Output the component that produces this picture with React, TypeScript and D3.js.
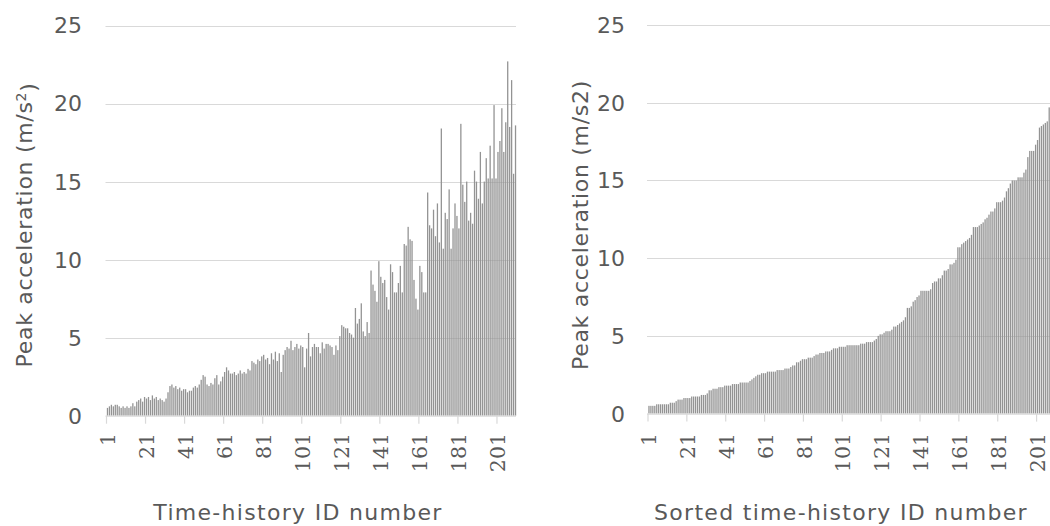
import { useEffect, useRef } from 'react';
import * as d3 from 'd3';

// peak acceleration per time-history, in ID order (m/s2)
const peakAcc = [
  0.5, 0.6, 0.7, 0.6, 0.7, 0.7, 0.6, 0.5, 0.6, 0.5, 0.6, 0.5, 0.6, 0.8, 0.6, 0.9,
  1.0, 1.1, 0.9, 1.2, 1.1, 1.2, 1.0, 1.3, 1.1, 1.2, 1.0, 1.1, 1.0, 0.9, 1.1,
  1.5, 1.9, 2.0, 1.8, 1.9,
  1.7, 1.8, 1.6, 1.7, 1.7, 1.5, 1.6, 1.6, 1.8, 1.9, 1.8, 2.0,
  2.3, 2.6, 2.5, 2.0, 1.9, 2.1, 2.0, 2.4, 2.6, 2.0, 2.2, 2.5,
  2.8, 3.1, 2.9, 2.7, 2.7, 2.8, 2.6, 2.7, 2.9, 2.7, 2.8, 2.7, 3.0, 2.9,
  3.5, 3.4, 3.3, 3.6, 3.5, 3.8, 3.9, 3.6, 3.7, 3.3, 4.0, 3.6, 4.1, 3.5, 4.0, 2.8, 3.9,
  4.2, 4.4, 4.3, 4.8, 4.2, 4.4, 4.6, 4.3, 4.5, 4.4, 3.1, 4.3, 5.3, 3.8, 4.4, 4.6, 4.4,
  4.4, 4.0, 4.7, 4.3, 4.6, 4.6, 4.5, 4.4, 3.9, 4.5, 4.2,
  5.1, 5.8, 5.7, 5.6, 5.6, 5.3, 5.2, 5.0,
  6.9, 5.9, 6.2, 7.2, 5.4, 5.1, 6.0, 5.3,
  9.3, 8.4, 8.0, 7.3, 9.9, 8.9, 8.5, 8.7, 7.6, 6.8, 9.7, 9.2, 7.9, 7.9, 8.5,
  9.6, 7.9, 11.0, 10.9, 12.1, 11.3, 11.2, 8.7, 7.5, 6.8, 9.6, 9.2, 7.9, 7.9,
  14.3, 12.2, 12.0, 13.2, 11.5, 13.6, 11.1, 18.4,
  10.7, 13.0, 12.6, 14.5, 10.7, 12.0, 13.6, 12.8, 12.0, 18.7,
  14.8, 13.7, 15.0, 12.5, 13.0, 12.3, 15.7, 15.0, 13.9, 16.9, 13.6, 15.0, 16.5, 15.2, 17.3, 15.2,
  19.9, 15.2, 16.9, 17.6, 19.7, 16.9, 18.8, 22.7, 18.5, 21.5, 15.5, 18.6,
];
const sortedAcc = [...peakAcc].sort(d3.ascending);
const ids = d3.range(1, peakAcc.length + 1);
const tickIds = [1, 21, 41, 61, 81, 101, 121, 141, 161, 181, 201];
const yTicks = [0, 5, 10, 15, 20, 25];

const panels = [
  {
    values: peakAcc,
    left: 106.5, right: 516.5, bottom: 415.7, top: 25.5,
    gridRight: 516,
    yLabelX: 82, yTitleX: 32, xTitleX: 298,
    xTitle: 'Time-history ID number',
    yTitle: 'Peak acceleration (m/s', sup: true,
  },
  {
    values: sortedAcc,
    left: 648, right: 1056, bottom: 413.6, top: 25,
    gridRight: 1050,
    yLabelX: 625, yTitleX: 588, xTitleX: 841,
    xTitle: 'Sorted time-history ID number',
    yTitle: 'Peak acceleration (m/s2)', sup: false,
  },
];

const textColor = '#595959';
const gridColor = '#d9d9d9';
const barColor = '#939393';

export default function App() {
  const svgRef = useRef(null);

  useEffect(() => {
    const svg = d3.select(svgRef.current);
    svg.selectAll('*').remove();

    panels.forEach(p => {
      const g = svg.append('g');
      const x = d3.scaleBand().domain(ids).range([p.left, p.right]);
      const y = d3.scaleLinear().domain([0, 25]).range([p.bottom, p.top]);
      const step = x.step();

      // gridlines
      g.selectAll('.grid')
        .data(yTicks.filter(d => d > 0))
        .enter()
        .append('line')
        .attr('x1', p.left - 1)
        .attr('x2', p.gridRight)
        .attr('y1', d => Math.round(y(d)) + 0.5)
        .attr('y2', d => Math.round(y(d)) + 0.5)
        .attr('stroke', gridColor)
        .attr('stroke-width', 1.2);

      // bars
      g.selectAll('.bar')
        .data(p.values)
        .enter()
        .append('rect')
        .attr('x', (d, i) => x(ids[i]) + step * 0.17)
        .attr('width', step * 0.66)
        .attr('y', d => y(d))
        .attr('height', d => y(0) - y(d))
        .attr('fill', barColor);

      // x axis line and ticks
      g.append('line')
        .attr('x1', p.left - 1)
        .attr('x2', p.gridRight)
        .attr('y1', y(0) + 0.5)
        .attr('y2', y(0) + 0.5)
        .attr('stroke', gridColor)
        .attr('stroke-width', 1.2);

      g.selectAll('.tick')
        .data(tickIds)
        .enter()
        .append('line')
        .attr('x1', d => x(d))
        .attr('x2', d => x(d))
        .attr('y1', y(0))
        .attr('y2', y(0) + 8)
        .attr('stroke', gridColor)
        .attr('stroke-width', 1.2);

      g.selectAll('.xlabel')
        .data(tickIds)
        .enter()
        .append('text')
        .attr('transform', d => `translate(${x(d) + step / 2},${433}) rotate(-90)`)
        .attr('dy', '0.35em')
        .attr('text-anchor', 'end')
        .style('font-family', '"DejaVu Serif", serif')
        .style('font-size', '20.5px')
        .attr('fill', textColor)
        .text(d => d);

      // y tick labels
      g.selectAll('.ylabel')
        .data(yTicks)
        .enter()
        .append('text')
        .attr('x', p.yLabelX)
        .attr('y', d => y(d))
        .attr('dy', '0.36em')
        .attr('text-anchor', 'end')
        .style('font-family', '"DejaVu Sans", sans-serif')
        .style('font-size', '22px')
        .attr('fill', textColor)
        .text(d => d);

      // axis titles
      const yt = g
        .append('text')
        .attr('transform', `translate(${p.yTitleX},${225}) rotate(-90)`)
        .attr('text-anchor', 'middle')
        .style('font-family', '"DejaVu Sans", sans-serif')
        .style('font-size', '22px')
        .style('letter-spacing', '0.7px')
        .attr('fill', textColor)
        .text(p.yTitle);
      if (p.sup) {
        yt.append('tspan').attr('dy', '-0.45em').style('font-size', '14px').text('2');
        yt.append('tspan').attr('dy', '0.45em').text(')');
      }

      g.append('text')
        .attr('x', p.xTitleX)
        .attr('y', 520)
        .attr('text-anchor', 'middle')
        .style('font-family', '"DejaVu Sans", sans-serif')
        .style('font-size', '22px')
        .style('letter-spacing', '1.3px')
        .attr('fill', textColor)
        .text(p.xTitle);
    });
  }, []);

  return (
    <svg
      ref={svgRef}
      width={1050}
      height={526}
      style={{ position: 'absolute', left: 0, top: 0, background: '#fff' }}
    ></svg>
  );
}
